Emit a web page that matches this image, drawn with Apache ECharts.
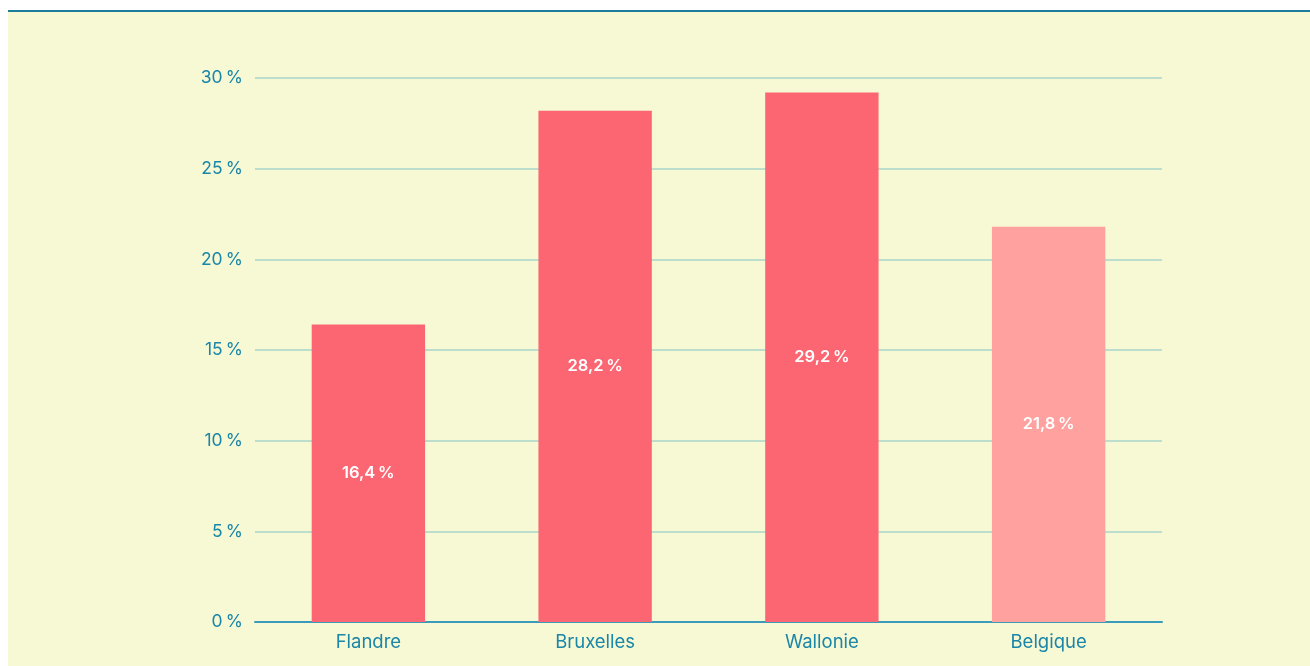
<!DOCTYPE html>
<html><head><meta charset="utf-8">
<script src="https://cdn.jsdelivr.net/npm/echarts@6/dist/echarts.min.js"></script>
<style>
html,body{margin:0;padding:0;background:#fff;}
#bg{position:absolute;left:8px;top:12px;width:1302px;height:654px;background:#f7f9d5;}
#rule{position:absolute;left:8px;top:10px;width:1302px;height:2px;background:#1b7c9c;}
#chart{position:absolute;left:0;top:0;width:1310px;height:666px;}
</style></head>
<body>
<div id="bg"></div><div id="rule"></div>
<div id="chart"></div>
<script>
const categories = ['Flandre', 'Bruxelles', 'Wallonie', 'Belgique'];
const values = [16.4, 28.2, 29.2, 21.8];
const barColors = ['#fb6672', '#fb6672', '#fb6672', '#fea19f'];
const yTicks = [0, 5, 10, 15, 20, 25, 30];

const THIN = '\u2009';
const chart = echarts.init(document.getElementById('chart'));
chart.setOption({
  backgroundColor: 'transparent',
  animation: false,
  grid: {left: 255, right: 148, top: 78, bottom: 44, containLabel: false},
  xAxis: {
    type: 'category', data: categories,
    axisLine: {lineStyle: {color: '#3a9cba', width: 2}},
    axisTick: {show: false},
    axisLabel: {color: '#1a86a8', fontSize: 18.5, fontFamily: 'Inter', margin: 11}
  },
  yAxis: {
    type: 'value', min: yTicks[0], max: yTicks[yTicks.length - 1], interval: 5,
    axisLine: {show: false}, axisTick: {show: false},
    splitLine: {lineStyle: {color: '#a9d5c8', width: 1.5}},
    axisLabel: {color: '#1a86a8', fontSize: 17.5, fontFamily: 'Inter', margin: 12,
      formatter: v => v + THIN + '%'}
  },
  series: [{
    type: 'bar', barWidth: '50%',
    data: values.map((v, i) => ({value: v, itemStyle: {color: barColors[i]}})),
    label: {show: true, position: 'inside', color: '#ffffff', fontSize: 16.5, fontWeight: 600,
      fontFamily: 'Inter',
      formatter: p => String(p.value).replace('.', ',') + THIN + '%'}
  }]
});
</script>
</body></html>
